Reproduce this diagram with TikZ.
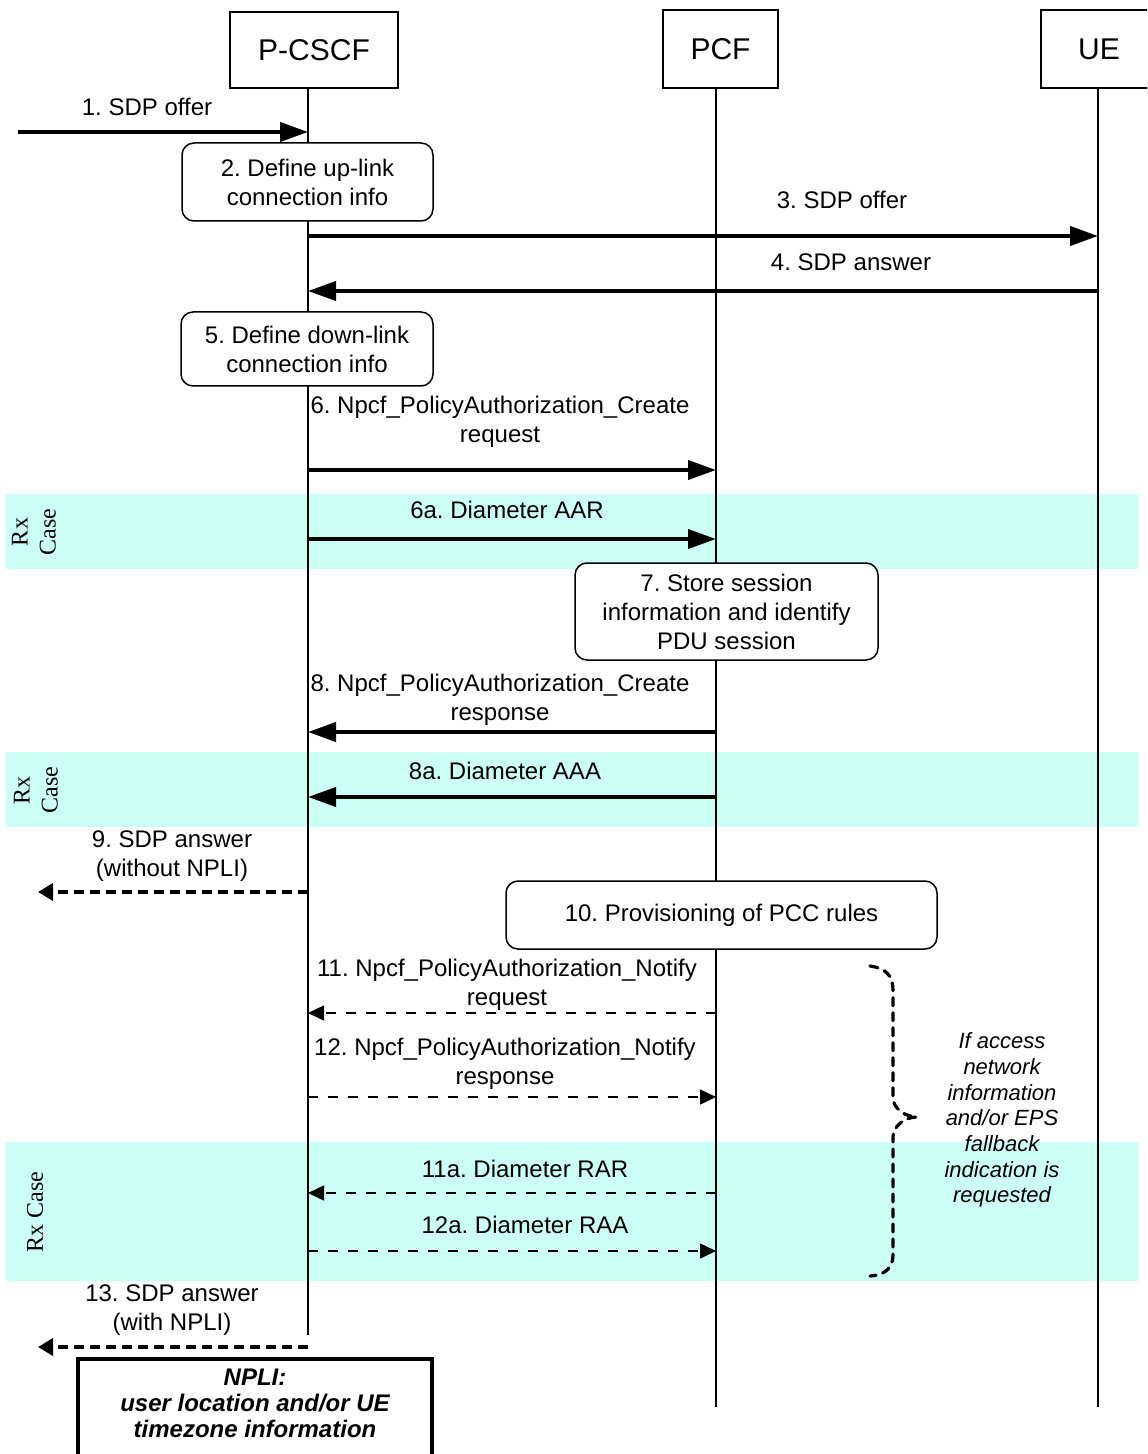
\documentclass[tikz,border=0pt]{standalone}
\usepackage{fontspec}
\setmainfont{Liberation Sans}
\newfontfamily\serifrx{Liberation Serif}
\usetikzlibrary{arrows.meta}
\definecolor{bandcol}{RGB}{204,255,246}
\frenchspacing
\tikzset{
  hdr/.style={draw, line width=0.75pt, inner sep=0pt, font=\fontsize{15}{18}\selectfont},
  life/.style={line width=0.75pt},
  stepbox/.style={draw, rounded corners=6pt, line width=0.75pt, align=center, inner sep=0pt, font=\fontsize{12}{14.5}\selectfont},
  lbl/.style={align=center, inner sep=0pt, font=\fontsize{12}{14.5}\selectfont},
  solidmsg/.style={line width=2pt, -{Triangle[length=14pt,width=9.5pt]}},
  dashmsg/.style={line width=0.75pt, dash pattern=on 5pt off 5pt, -{Triangle[length=8pt,width=7.5pt]}},
  thickdash/.style={line width=2pt, dash pattern=on 5pt off 3pt, -{Triangle[length=7.5pt,width=8.5pt]}},
  bandfill/.style={fill=bandcol},
  rx/.style={rotate=90, align=center, inner sep=0pt, font=\serifrx\fontsize{12}{14}\selectfont},
  bracepath/.style={line width=1.6pt, dash pattern=on 4pt off 3.5pt, line cap=round},
  notetxt/.style={align=center, inner sep=0pt, font=\itshape\fontsize{11}{12.85}\selectfont},
  nplibox/.style={draw, line width=1.75pt, inner sep=0pt},
  nplitxt/.style={align=center, inner sep=0pt, font=\bfseries\itshape\fontsize{12}{13}\selectfont},
}
\begin{document}
\begin{tikzpicture}[x=0.5pt, y=-0.5pt]
\useasboundingbox (0,0) rectangle (1147,1454);
\clip (0,0) rectangle (1147,1454);
% Rx bands
\fill[bandfill] (6,494) rectangle (1138,569);
\fill[bandfill] (6,752) rectangle (1138,827);
\fill[bandfill] (6,1142) rectangle (1138,1281);
\node[rx] (rx1) at (34,532) {Rx\\Case};
\node[rx] (rx2) at (36,790) {Rx\\Case};
\node[rx] (rx3) at (35,1212) {Rx Case};
% headers
\node[hdr, minimum width=84pt, minimum height=38pt] (pcscf) at (314,50) {P-CSCF};
\node[hdr, minimum width=57.5pt, minimum height=39pt] (pcf) at (720.5,49) {PCF};
\node[hdr, minimum width=58pt, minimum height=39pt] (ue) at (1099,49) {UE};
% lifelines
\coordinate (lP) at (308,1335);
\coordinate (lF) at (716,1407);
\coordinate (lU) at (1098,1407);
\draw[life] (lP |- pcscf.south) -- (lP);
\draw[life] (lF |- pcf.south) -- (lF);
\draw[life] (lU |- ue.south) -- (lU);
% 1
\coordinate (src1) at (18,132);
\node[lbl] (l1) at (147,107) {1. SDP offer};
\draw[solidmsg] (src1) -- (lP |- src1);
% 2
\node[stepbox, fill=white, minimum width=125.5pt, minimum height=39pt] (s2) at (307.5,182) {2. Define up-link\\connection info};
% 3
\node[lbl] (l3) at (842,200) {3. SDP offer};
\draw[solidmsg] (lP |- 0,236) -- (lU |- 0,236);
% 4
\node[lbl] (l4) at (851,262) {4. SDP answer};
\draw[solidmsg] (lU |- 0,291) -- (lP |- 0,291);
% 5
\node[stepbox, fill=white, minimum width=126pt, minimum height=37pt] (s5) at (307,349) {5. Define down-link\\connection info};
% 6
\node[lbl] (l6) at (500,422) {6. Npcf\_PolicyAuthorization\_Create\\request};
\draw[solidmsg] (lP |- 0,470) -- (lF |- 0,470);
% 6a
\node[lbl] (l6a) at (507,510) {6a. Diameter AAR};
\draw[solidmsg] (lP |- 0,539) -- (lF |- 0,539);
% 7
\node[stepbox, fill=white, minimum width=151.5pt, minimum height=48.5pt] (s7) at (726.5,611.5) {7. Store session\\information and identify\\PDU session};
% 8
\node[lbl] (l8) at (500,700) {8. Npcf\_PolicyAuthorization\_Create\\response};
\draw[solidmsg] (lF |- 0,732) -- (lP |- 0,732);
% 8a
\node[lbl] (l8a) at (505,771) {8a. Diameter AAA};
\draw[solidmsg] (lF |- 0,797) -- (lP |- 0,797);
% 9
\coordinate (dst9) at (38,892);
\node[lbl] (l9) at (172,856) {9. SDP answer\\(without NPLI)};
\draw[thickdash] (lP |- dst9) -- (dst9);
% 10
\node[stepbox, fill=white, minimum width=215.5pt, minimum height=34pt] (s10) at (721.5,915) {10. Provisioning of PCC rules};
% 11
\node[lbl] (l11) at (507,985) {11. Npcf\_PolicyAuthorization\_Notify\\request};
\draw[dashmsg] (lF |- 0,1013) -- (lP |- 0,1013);
% 12
\node[lbl] (l12) at (505,1064) {12. Npcf\_PolicyAuthorization\_Notify\\response};
\draw[dashmsg] (lP |- 0,1097) -- (lF |- 0,1097);
% 11a
\node[lbl] (l11a) at (525,1169) {11a. Diameter RAR};
\draw[dashmsg] (lF |- 0,1193) -- (lP |- 0,1193);
% 12a
\node[lbl] (l12a) at (525,1225) {12a. Diameter RAA};
\draw[dashmsg] (lP |- 0,1251) -- (lF |- 0,1251);
% 13
\coordinate (dst13) at (38,1347);
\node[lbl] (l13) at (172,1310) {13. SDP answer\\(with NPLI)};
\draw[thickdash] (lP |- dst13) -- (dst13);
% NPLI
\node[nplibox, minimum width=177pt, minimum height=56pt] (npli) at (255,1415) {};
\node[nplitxt] (nplit) at (255,1403) {NPLI:\\user location and/or UE\\timezone information};
% brace
\draw[bracepath] (870,966) .. controls (885,968) and (893,975) .. (893,990) -- (893,1098)
  .. controls (893,1108) and (905,1117) .. (917,1117)
  .. controls (905,1117) and (893,1126) .. (893,1137) -- (893,1255)
  .. controls (893,1268) and (885,1275) .. (870,1276);
\node[notetxt] (note) at (1002,1120) {If access\\network\\information\\and/or EPS\\fallback\\indication is\\requested};
\end{tikzpicture}
\end{document}
